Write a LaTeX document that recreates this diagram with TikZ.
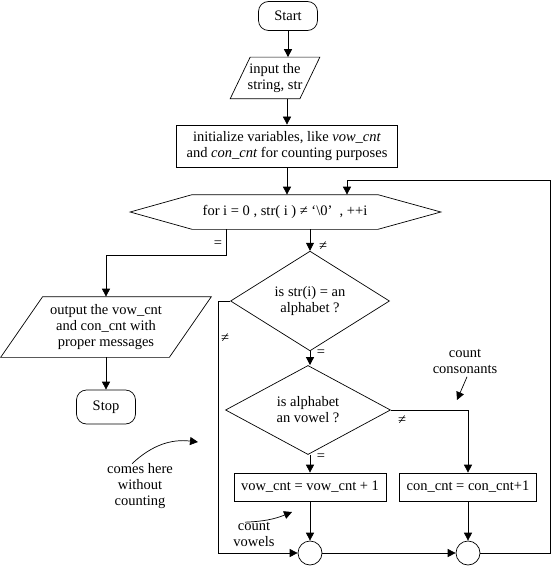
\documentclass[tikz,border=0pt]{standalone}
\usepackage{fontspec}
\setmainfont{Liberation Serif}
\usetikzlibrary{shapes.geometric,arrows.meta}

\begin{document}
\begin{tikzpicture}[x=1pt, y=-1pt, line width=0.7pt,
    every node/.style={font=\fontsize{14.5}{16}\selectfont},
    term/.style={draw, rectangle, rounded corners=10pt, minimum width=59pt},
    io/.style={rectangle, align=center, inner sep=0pt},
    proc/.style={draw, rectangle, align=center, inner sep=0pt},
    dec/.style={draw, diamond, align=center, inner sep=0pt},
    jn/.style={draw, circle, minimum size=24pt, inner sep=0pt},
    arr/.style={-{Triangle[length=8pt, width=8pt]}}]
  \useasboundingbox (0,0) rectangle (553,567);

  \node[term, minimum height=29pt](start) at (288,16){Start};
  \node[io, minimum width=69pt, minimum height=41pt](input) at (275,78){input the\\string, str};
  \draw ([xshift=10pt]input.north west) -- ([xshift=10pt]input.north east) -- ([xshift=-10pt]input.south east) -- ([xshift=-10pt]input.south west) -- cycle;
  \node[proc, minimum width=221pt, minimum height=42pt](init) at (287,146){initialize variables, like \textit{vow\_cnt}\\and \textit{con\_cnt} for counting purposes};

  \node[minimum width=185pt, minimum height=34pt, inner sep=0pt](loop) at (285,212){for i = 0 , str( i ) ≠ ‘\textbackslash 0’\ \ , ++i};
  \draw (loop.north west) -- (loop.north east) -- ([xshift=63pt]loop.east) -- (loop.south east) -- (loop.south west) -- ([xshift=-62pt]loop.west) -- cycle;

  \node[io, minimum width=168pt, minimum height=60pt](output) at (106,327){output the vow\_cnt\\and con\_cnt with\\proper messages};
  \draw ([xshift=21pt]output.north west) -- ([xshift=21pt]output.north east) -- ([xshift=-21pt]output.south east) -- ([xshift=-21pt]output.south west) -- cycle;
  \node[term, minimum height=34pt](stop) at (106,407){Stop};

  \node[dec, minimum width=159pt, minimum height=75pt](dia1) at (310,301){is str(i) = an\\alphabet ?};
  \node[dec, minimum width=165pt, minimum height=74pt](dia2) at (308,410){is alphabet\\an vowel ?};

  \node[proc, minimum width=152pt, minimum height=28pt](vow) at (310,487){vow\_cnt = vow\_cnt + 1};
  \node[proc, minimum width=137pt, minimum height=28pt](con) at (468,487){con\_cnt = con\_cnt+1};

  \node[jn](c1) at (310,553){};
  \node[jn](c2) at (468,553){};
  \coordinate (back) at (550,180);

  % labels on the branches
  \node(eqout) at (218,244){=};
  \node(neqin) at (323,246){≠};
  \node(neqa) at (225,338){≠};
  \node(eqa) at (321,353){=};
  \node(eqv) at (321,457){=};
  \node(neqv) at (402,420){≠};

  % notes
  \node[align=center](cnote) at (465,361){count\\consonants};
  \coordinate (cptr) at (457,400);
  \node[align=center](vnote) at (254,534){count\\vowels};
  \coordinate (vptr) at (292,512);
  \node[align=center](wnote) at (140,486){comes here\\without\\counting};
  \coordinate (wptr) at (198,442);

  \draw[arr](start) -- (start |- input.north);
  \draw[arr](input.south -| init) -- (init);
  \draw[arr](init) -- (init |- loop.north);
  \draw[arr](loop.south -| dia1) -- (dia1);
  \draw[arr]([xshift=-59pt]loop.south) -- ++(0,26) -| (output);
  \draw[arr](output) -- (stop);
  \draw[arr](dia1) -- (dia1 |- dia2.north);
  \draw[arr](dia1.west) -- ++(-12,0) |- (c1);
  \draw[arr](dia2.south -| vow) -- (vow);
  \draw[arr](dia2.east) -| (con);
  \draw[arr](vow) -- (c1);
  \draw[arr](con) -- (c2);
  \draw[arr](c1) -- (c2);
  \draw[arr](c2) -- (c2 -| back) -- (back) -| ([xshift=62pt]loop.north);

  \draw[arr]([xshift=2pt]cnote.south) -- (cptr);
  \draw[arr]([xshift=-9pt,yshift=-4pt]vnote.north) to[bend right=10] (vptr);
  \draw[arr]([xshift=-8pt,yshift=-4pt]wnote.north) to[bend left=25] (wptr);
\end{tikzpicture}
\end{document}
